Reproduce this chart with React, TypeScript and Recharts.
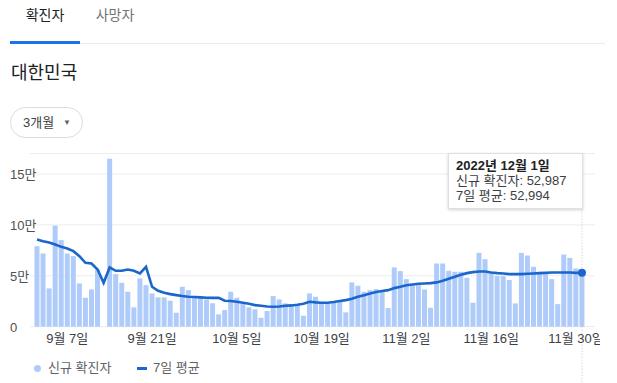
import { ComposedChart, Bar, Line, XAxis, YAxis, CartesianGrid, ReferenceLine } from 'recharts';

const FONT = "Arial, 'Liberation Sans', 'Noto Sans CJK KR', sans-serif";
const BAR_COLOR = '#aecbfa';
const LINE_COLOR = '#1a66cc';

// 2022년 9월 2일 ~ 12월 1일 (91일)
const MONTHS = [9, 10, 11, 12];
const MONTH_DAYS = [30, 31, 30, 31];
const FIRST_DAY = 2;
const DAY_COUNT = 91;

const NEW_CASES = [
  79100, 71900, 37600, 99300, 85000, 71900, 69300, 42500, 28400, 36600,
  56000, 0, 165000, 51600, 43100, 34300, 19000, 47400, 40800, 32700,
  28800, 28800, 25500, 13700, 39200, 35900, 29400, 29400, 26800, 23000,
  12100, 16300, 34300, 28400, 22200, 19000, 17000, 8800, 15400, 30100,
  26800, 22900, 21200, 21200, 10800, 32700, 29400, 23500, 23500, 24500,
  25200, 14100, 43500, 40200, 34300, 35900, 36900, 35900, 18300, 58200,
  54600, 46700, 40800, 40800, 36600, 18600, 62100, 62100, 54900, 53900,
  53900, 48000, 23500, 72500, 66300, 53900, 49700, 49700, 45800, 22900,
  72500, 69900, 58800, 53900, 51600, 46700, 22200, 70900, 67600, 57200,
  52987,
];

const AVG_7D = [
  85600, 84000, 82700, 80700, 78400, 76800, 74200, 69300, 62700, 62100,
  56200, 43100, 58200, 54900, 54900, 56200, 54900, 52300, 58800, 39200,
  35300, 33300, 32000, 31000, 30100, 29400, 29100, 28800, 28400, 28300,
  28400, 25500, 25200, 24500, 23500, 22500, 21200, 20600, 19900, 19600,
  19900, 20600, 20900, 21600, 22500, 24500, 23900, 23500, 23500, 24200,
  25200, 26100, 27500, 29400, 31000, 32700, 34000, 35000, 35900, 37900,
  39200, 40800, 41500, 42200, 42500, 42800, 43500, 45100, 47100, 49000,
  51000, 52600, 53600, 54200, 54200, 53300, 52600, 52300, 51600, 51600,
  51600, 52000, 52300, 52600, 52900, 53300, 53300, 53300, 53300, 52900,
  52994,
];

const X_TICKS = ['9월 7일', '9월 21일', '10월 5일', '10월 19일', '11월 2일', '11월 16일', '11월 30일'];
const Y_TICKS = [0, 50000, 100000, 150000];
const Y_LABELS = ['0', '5만', '10만', '15만'];

const dates: string[] = [];
let m = 0;
let d = FIRST_DAY;
for (let i = 0; i < DAY_COUNT; i++) {
  dates.push(`${MONTHS[m]}월 ${d}일`);
  d++;
  if (d > MONTH_DAYS[m]) {
    d = 1;
    m++;
  }
}

const data = dates.map((date, i) => ({ date, cases: NEW_CASES[i], avg: AVG_7D[i] }));
const last = data.length - 1;

const renderXTick = (props: any) => (
  <text x={props.x} y={props.y + 8} textAnchor="middle" fontSize={13} fill="#3c4043" fontFamily={FONT}>
    {props.payload.value}
  </text>
);

const renderYTick = (props: any) => (
  <text x={10} y={props.y + 5} textAnchor="start" fontSize={13} fill="#4d5156" fontFamily={FONT}>
    {Y_LABELS[Y_TICKS.indexOf(props.payload.value)]}
  </text>
);

const renderDot = (props: any) =>
  props.index === last ? (
    <circle key={`dot-${props.index}`} cx={props.cx} cy={props.cy} r={4} fill={LINE_COLOR} />
  ) : (
    <g key={`dot-${props.index}`} />
  );

export default function App() {
  return (
    <div style={{ position: 'absolute', left: 0, top: 0, width: 617, height: 383, background: '#fff', fontFamily: FONT }}>
      {/* tabs */}
      <div style={{ position: 'absolute', left: 10, top: 4, width: 70, textAlign: 'center', fontSize: 14, color: '#202124' }}>확진자</div>
      <div style={{ position: 'absolute', left: 80, top: 4, width: 70, textAlign: 'center', fontSize: 14, color: '#70757a' }}>사망자</div>
      <div style={{ position: 'absolute', left: 10, top: 43, width: 595, height: 1, background: '#e8eaed' }} />
      <div style={{ position: 'absolute', left: 10, top: 41, width: 70, height: 3, background: '#1a73e8' }} />

      <div style={{ position: 'absolute', left: 11, top: 58, fontSize: 18, color: '#202124' }}>대한민국</div>

      <div
        style={{
          position: 'absolute', left: 10, top: 107, width: 71, height: 29, border: '1px solid #dadce0',
          borderRadius: 16, fontSize: 13, color: '#3c4043', lineHeight: '29px', boxSizing: 'content-box',
        }}
      >
        <span style={{ position: 'absolute', left: 12 }}>3개월</span>
        <span style={{ position: 'absolute', left: 52, fontSize: 8, color: '#5f6368' }}>▼</span>
      </div>

      <div style={{ position: 'absolute', left: 0, top: 0, width: 600, height: 383, overflow: 'hidden' }}>
        <ComposedChart
          width={617}
          height={383}
          data={data}
          margin={{ top: 153.6, right: 22, bottom: 36.3, left: 0 }}
          barCategoryGap="8%"
        >
          <CartesianGrid vertical={false} stroke="#ececec" />
          <XAxis
            dataKey="date"
            ticks={X_TICKS}
            interval={0}
            axisLine={false}
            tickLine={false}
            height={20}
            padding={{ left: 4, right: 10 }}
            tick={renderXTick}
          />
          <YAxis
            domain={[0, 170000]}
            ticks={Y_TICKS}
            width={30}
            axisLine={false}
            tickLine={false}
            tick={renderYTick}
          />
          <ReferenceLine
            x={dates[last]}
            shape={(p: any) => (
              <line x1={p.x1} x2={p.x2} y1={p.y1 + 55} y2={p.y2 + 34} stroke="#c4c4c4" strokeDasharray="1 2" />
            )}
          />
          <Bar dataKey="cases" fill={BAR_COLOR} isAnimationActive={false} />
          <Line
            dataKey="avg"
            type="linear"
            stroke={LINE_COLOR}
            strokeWidth={2.6}
            dot={renderDot}
            activeDot={false}
            isAnimationActive={false}
          />
        </ComposedChart>
      </div>

      {/* tooltip */}
      <div
        style={{
          position: 'absolute', left: 448, top: 153, width: 135, height: 56, boxSizing: 'border-box',
          background: '#fff', border: '1px solid #e0e0e0', boxShadow: '0 1px 3px rgba(0,0,0,0.18)',
          padding: '4px 7px', fontSize: 13, lineHeight: '15px', color: '#202124', whiteSpace: 'nowrap',
        }}
      >
        <div style={{ fontWeight: 'bold' }}>2022년 12월 1일</div>
        <div style={{ color: '#3c4043' }}>신규 확진자: {NEW_CASES[last].toLocaleString('en-US')}</div>
        <div style={{ color: '#3c4043' }}>7일 평균: {AVG_7D[last].toLocaleString('en-US')}</div>
      </div>

      {/* legend */}
      <div style={{ position: 'absolute', left: 34, top: 364.5, width: 7, height: 7, borderRadius: 4, background: BAR_COLOR }} />
      <div style={{ position: 'absolute', left: 48, top: 359, fontSize: 13, lineHeight: '18px', color: '#5f6368' }}>신규 확진자</div>
      <div style={{ position: 'absolute', left: 137, top: 366.5, width: 10, height: 3, background: LINE_COLOR }} />
      <div style={{ position: 'absolute', left: 153, top: 359, fontSize: 13, lineHeight: '18px', color: '#5f6368' }}>7일 평균</div>
    </div>
  );
}
